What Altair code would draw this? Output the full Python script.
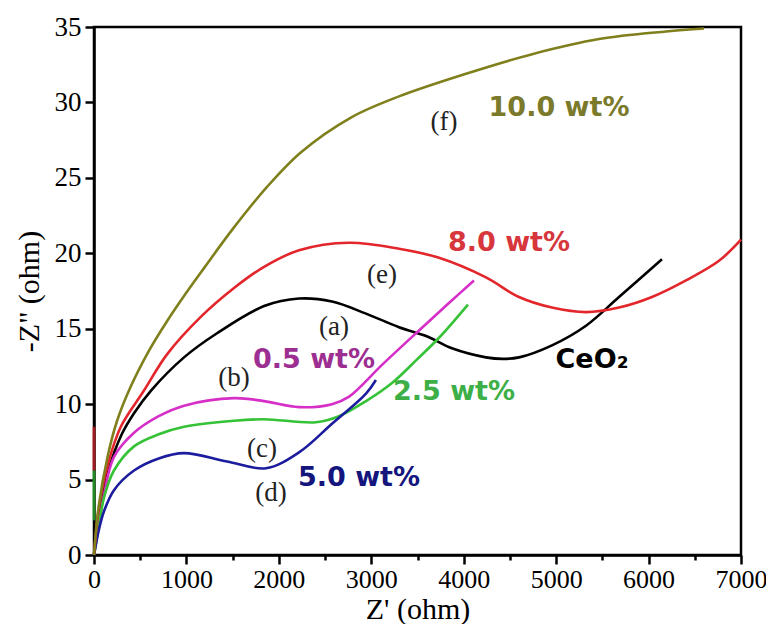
import altair as alt
import pandas as pd

# ---------------- data ----------------
series_names = ["CeO2", "0.5 wt%", "2.5 wt%", "5.0 wt%", "8.0 wt%", "10.0 wt%"]
series_colors = ["#000000", "#d62fc8", "#36c236", "#1c1c9e", "#e3262b", "#7f7f1c"]

x_a = [0, 50, 150, 300, 433, 617, 974, 1331, 1840, 2218, 2575, 2943, 3300, 3600, 3873, 4241, 4420, 4598, 4955, 5323, 5680, 6145]
y_a = [0, 2.6, 5.5, 8.0, 9.4, 10.9, 13.1, 14.7, 16.5, 17.0, 16.8, 16.0, 15.1, 14.5, 13.7, 13.1, 13.0, 13.1, 13.9, 15.2, 17.1, 19.6]

x_b = [0, 50, 108, 216, 433, 700, 974, 1515, 1840, 2218, 2575, 2760, 3116, 3484, 3840, 4111]
y_b = [0, 2.0, 4.0, 6.5, 8.1, 9.2, 9.9, 10.4, 10.2, 9.8, 10.0, 10.5, 12.6, 14.7, 16.7, 18.2]

x_c = [0, 50, 108, 216, 433, 700, 974, 1515, 1840, 2400, 2650, 2943, 3224, 3484, 3733, 4046]
y_c = [0, 1.8, 3.8, 5.6, 7.2, 8.0, 8.5, 8.9, 9.0, 8.8, 9.2, 10.2, 11.4, 12.9, 14.4, 16.6]

x_d = [0, 50, 108, 216, 433, 700, 974, 1440, 1860, 2218, 2575, 2943, 3050]
y_d = [0, 1.6, 2.9, 4.3, 5.6, 6.4, 6.75, 6.2, 5.75, 6.8, 8.7, 10.7, 11.6]

x_e = [0, 50, 150, 290, 541, 790, 1158, 1515, 1840, 2218, 2760, 3300, 3733, 4241, 4598, 4955, 5323, 5680, 6037, 6405, 6762, 7000]
y_e = [0, 3.0, 6.0, 8.5, 10.9, 13.3, 15.8, 17.7, 19.1, 20.2, 20.7, 20.3, 19.7, 18.4, 17.1, 16.4, 16.1, 16.4, 17.1, 18.2, 19.5, 20.9]

x_f = [0, 50, 150, 250, 400, 600, 790, 1000, 1200, 1500, 1872, 2240, 2780, 3300, 4025, 4740, 5464, 6188, 6600]
y_f = [0, 3.2, 6.6, 8.9, 11.2, 13.6, 15.5, 17.4, 19.1, 21.6, 24.4, 26.7, 29.0, 30.4, 31.9, 33.2, 34.2, 34.7, 34.9]

xs = [x_a, x_b, x_c, x_d, x_e, x_f]
ys = [y_a, y_b, y_c, y_d, y_e, y_f]

# short vertical traces lying on the y axis
seg_names = ["8.0 wt%", "2.5 wt%"]
seg_y1 = [8.5, 5.6]
seg_y2 = [5.6, 2.3]

# annotations
label_text = ["(f)", "(e)", "(a)", "(b)", "(c)", "(d)"]
label_x = [3787, 3116, 2597, 1515, 1818, 1915]
label_y = [28.7, 18.55, 15.1, 11.7, 7.0, 4.1]

tag_text = ["10.0 wt%", "8.0 wt%", "CeO₂", "0.5 wt%", "2.5 wt%", "5.0 wt%"]
tag_x = [5031, 4490, 5388, 2380, 3895, 2867]
tag_y = [29.6, 20.7, 12.9, 12.9, 10.8, 5.1]
tag_colors = ["#7a7a2a", "#d6363c", "#000000", "#9c2f91", "#3daf47", "#14167e"]

x_ticks = [0, 500, 1000, 1500, 2000, 2500, 3000, 3500, 4000, 4500, 5000, 5500, 6000, 6500, 7000]
y_ticks = [0, 2.5, 5, 7.5, 10, 12.5, 15, 17.5, 20, 22.5, 25, 27.5, 30, 32.5, 35]

# ---------------- build tables ----------------
rows = []
for name, xx, yy in zip(series_names, xs, ys):
    for i, (a, b) in enumerate(zip(xx, yy)):
        rows.append({"s": name, "x": a, "y": b, "o": i})
lines_df = pd.DataFrame(rows)
seg_df = pd.DataFrame({"s": seg_names, "x": [0, 0], "y": seg_y1, "y2": seg_y2})
lab_df = pd.DataFrame({"t": label_text, "x": label_x, "y": label_y})
tag_df = pd.DataFrame({"t": tag_text, "x": tag_x, "y": tag_y, "c": tag_colors})

xsc = alt.Scale(domain=[0, 7000], nice=False)
ysc = alt.Scale(domain=[0, 35], nice=False)
col = alt.Color("s:N", scale=alt.Scale(domain=series_names, range=series_colors), legend=None)

serif = "Liberation Serif"

x_ax = alt.Axis(values=x_ticks, title="Z' (ohm)", format="d", labelFont=serif, labelFontSize=26,
                labelExpr="datum.value % 1000 === 0 ? datum.label : ''",
                titleFont=serif, titleFontSize=30, titleFontWeight="normal",
                labelColor="black", titleColor="black", domainColor="black", domainWidth=2.5,
                tickColor="black", tickWidth=2.5,
                tickSize={"condition": {"test": "datum.value % 1000 === 0", "value": 9}, "value": 5},
                labelPadding=2, titlePadding=2, grid=False, labelFlush=False, labelOverlap=False)
y_ax = alt.Axis(values=y_ticks, title='-Z" (ohm)', format="d", labelFont=serif, labelFontSize=27,
                labelExpr="datum.value % 5 === 0 ? datum.label : ''",
                titleFont=serif, titleFontSize=30, titleFontWeight="normal",
                labelColor="black", titleColor="black", domainColor="black", domainWidth=2.5,
                tickColor="black", tickWidth=2.5,
                tickSize={"condition": {"test": "datum.value % 5 === 0", "value": 9}, "value": 5},
                labelPadding=4, titlePadding=10, grid=False, labelFlush=False, labelOverlap=False)

lines = alt.Chart(lines_df).mark_line(strokeWidth=2.6, interpolate="catmull-rom").encode(
    x=alt.X("x:Q", scale=xsc, axis=x_ax),
    y=alt.Y("y:Q", scale=ysc, axis=y_ax),
    color=col,
    order="o:Q",
    detail="s:N",
)

segs = alt.Chart(seg_df).mark_rule(strokeWidth=3, opacity=0.7).encode(
    x=alt.X("x:Q", scale=xsc),
    y=alt.Y("y:Q", scale=ysc),
    y2="y2:Q",
    color=col,
)

labs = alt.Chart(lab_df).mark_text(font=serif, fontSize=27, color="#222222").encode(
    x=alt.X("x:Q", scale=xsc),
    y=alt.Y("y:Q", scale=ysc),
    text="t:N",
)

tags = alt.Chart(tag_df).mark_text(font="DejaVu Sans", fontSize=27, fontWeight="bold").encode(
    x=alt.X("x:Q", scale=xsc),
    y=alt.Y("y:Q", scale=ysc),
    text="t:N",
    color=alt.Color("c:N", scale=None),
)

chart = alt.layer(lines, segs, labs, tags).properties(
    width=647, height=528,
    background="white",
    autosize=alt.AutoSizeParams(type="none"),
    padding={"left": 86, "top": 19, "right": 25, "bottom": 69},
).configure_view(stroke="black", strokeWidth=2.5)

chart.save("out.html", embed_options={"renderer": "svg", "actions": False})
